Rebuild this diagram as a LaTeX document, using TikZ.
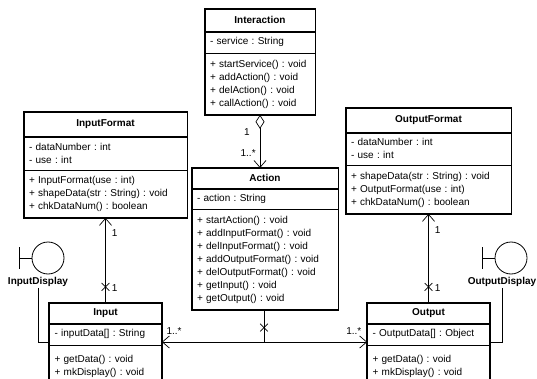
\documentclass[tikz,border=0pt]{standalone}
\usepackage{fontspec}
\setmainfont{Liberation Sans}
\frenchspacing
\usetikzlibrary{arrows.meta,shapes.misc,positioning,fit}
\tikzset{
  clshead/.style={
    draw=black, fill=white, line width=0.6pt, anchor=north,
    inner sep=0pt, align=center, font=\fontsize{10}{13}\selectfont\bfseries
  },
  clsbody/.style={
    draw=black, fill=white, line width=0.6pt, anchor=north,
    inner xsep=5pt, inner ysep=0pt, align=left, font=\fontsize{10}{13}\selectfont
  },
  clsframe/.style={draw=black, line width=1.6pt, inner sep=0pt},
  umledge/.style={line width=0.7pt},
  umlnav/.style={umledge,-{Straight Barb[length=7pt,width=12pt]}},
  umlagg/.style={umledge,{Diamond[open,length=14pt,width=9pt]}-{Straight Barb[length=7pt,width=12pt]}},
  umlx/.style={cross out, draw=black, line width=0.7pt, minimum size=7pt, inner sep=0pt},
  mult/.style={font=\fontsize{10}{12}\selectfont, inner sep=1pt},
  bnd/.style={circle, draw=black, fill=white, line width=0.8pt, minimum size=32pt, inner sep=0pt},
  bndlabel/.style={font=\fontsize{10}{12}\selectfont\bfseries, inner sep=1pt}
}

\begin{document}
\begin{tikzpicture}[x=1pt,y=-1pt]
\useasboundingbox (0,0) rectangle (537,379);
\clip (0,0) rectangle (537,379);

% Interaction
\node[clshead,text width=110pt,minimum height=22pt] (inth) at (260,9) {Interaction};
\node[clsbody,text width=100pt,minimum height=21pt] (inta) at (inth.south) {- service : String};
\node[clsbody,text width=100pt,minimum height=61pt] (intm) at (inta.south)
  {+ startService() : void\\+ addAction() : void\\+ delAction() : void\\+ callAction() : void};
\node[clsframe,fit=(inth)(intm)] (int) {};

% Action
\node[clshead,text width=146pt,minimum height=20pt] (acth) at (265,168) {Action};
\node[clsbody,text width=136pt,minimum height=20pt] (acta) at (acth.south) {- action : String};
\node[clsbody,text width=136pt,minimum height=100pt] (actm) at (acta.south)
  {+ startAction() : void\\+ addInputFormat() : void\\+ delInputFormat() : void\\+ addOutputFormat() : void\\+ delOutputFormat() : void\\+ getInput() : void\\+ getOutput() : void};
\node[clsframe,fit=(acth)(actm)] (act) {};

% InputFormat
\node[clshead,text width=163pt,minimum height=24pt] (infh) at (105.5,112) {InputFormat};
\node[clsbody,text width=153pt,minimum height=33pt] (infa) at (infh.south) {- dataNumber : int\\- use : int};
\node[clsbody,text width=153pt,minimum height=47pt] (infm) at (infa.south)
  {+ InputFormat(use : int)\\+ shapeData(str : String) : void\\+ chkDataNum() : boolean};
\node[clsframe,fit=(infh)(infm)] (inf) {};

% OutputFormat
\node[clshead,text width=165pt,minimum height=24pt] (outfh) at (428.5,108) {OutputFormat};
\node[clsbody,text width=155pt,minimum height=32pt] (outfa) at (outfh.south) {- dataNumber : int\\- use : int};
\node[clsbody,text width=155pt,minimum height=48pt] (outfm) at (outfa.south)
  {+ shapeData(str : String) : void\\+ OutputFormat(use : int)\\+ chkDataNum() : boolean};
\node[clsframe,fit=(outfh)(outfm)] (outf) {};

% Input
\node[clshead,text width=112pt,minimum height=20pt] (inph) at (105.5,303) {Input};
\node[clsbody,text width=102pt,minimum height=21pt] (inpa) at (inph.south) {- inputData[] : String};
\node[clsbody,text width=102pt,inner ysep=10pt,text depth=40pt] (inpm) at (inpa.south)
  {+ getData() : void\\+ mkDisplay() : void};
\node[clsframe,fit=(inph)(inpm)] (inp) {};

% Output
\node[clshead,text width=122pt,minimum height=20pt] (outh) at (428.5,303) {Output};
\node[clsbody,text width=112pt,minimum height=21pt] (outa) at (outh.south) {- OutputData[] : Object};
\node[clsbody,text width=112pt,inner ysep=10pt,text depth=40pt] (outm) at (outa.south)
  {+ getData() : void\\+ mkDisplay() : void};
\node[clsframe,fit=(outh)(outm)] (out) {};

% boundary objects
\node[bnd] (indisp) at (48,258) {};
\draw[umledge] (indisp.west) -- ++(-12,0) ++(0,-11) -- ++(0,22);
\node[bndlabel] (indlbl) at (38,282) {InputDisplay};
\node[bnd] (outdisp) at (511,258) {};
\draw[umledge] (outdisp.west) -- ++(-12,0) ++(0,-11) -- ++(0,22);
\node[bndlabel] (outdlbl) at (502,282) {OutputDisplay};

% connectors
\draw[umlagg] (intm.south) -- node[mult,pos=0.33,left=9pt]{1} node[mult,pos=0.72,left=3pt]{1..*} (intm.south |- acth.north);

\draw[umlnav] (inph.north) -- node[umlx,pos=0.19]{} node[mult,pos=0.18,right=5pt]{1} node[mult,pos=0.82,right=5pt]{1} (infm.south);
\draw[umlnav] (outh.north) -- node[umlx,pos=0.18]{} node[mult,pos=0.17,right=5pt]{1} node[mult,pos=0.82,right=5pt]{1} (outfm.south);

\coordinate (junc) at (264,342);
\draw[umledge] (junc |- actm.south) -- node[umlx,pos=0.55]{} (junc);
\draw[umlnav] (junc) -- node[mult,pos=0.88,above=6pt]{1..*} (junc -| inpa.east);
\draw[umlnav] (junc) -- node[mult,pos=0.87,above=6pt]{1..*} (junc -| outa.west);

\draw[umledge] (indlbl.south) |- (junc -| inpa.west);
\draw[umledge] (outdlbl.south) |- (junc -| outa.east);
\end{tikzpicture}
\end{document}
